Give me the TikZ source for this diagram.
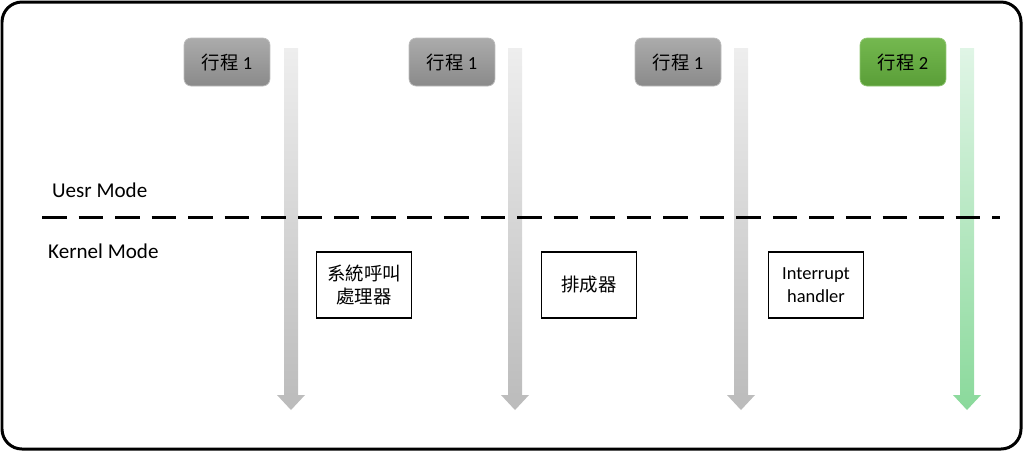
\documentclass[tikz,border=0pt]{standalone}
\usepackage{fontspec}
\setmainfont{Carlito}
\newfontfamily\cjk{Noto Sans CJK TC}
\usetikzlibrary{positioning}

\definecolor{procgraytop}{HTML}{ABABAB}
\definecolor{procgraybot}{HTML}{8A8A8A}
\definecolor{procgreentop}{HTML}{74B84F}
\definecolor{procgreenbot}{HTML}{5A9E38}
\definecolor{arrgraytop}{HTML}{EEEEEE}
\definecolor{arrgraybot}{HTML}{BBBBBB}
\definecolor{arrgreentop}{HTML}{E0F5E6}
\definecolor{arrgreenbot}{HTML}{8AD99B}

\begin{document}
\begin{tikzpicture}[x=0.02cm, y=-0.02cm, font=\fontsize{10.5}{13}\selectfont,
    procbox/.style={rounded corners=4pt, minimum width=1.72cm, minimum height=0.96cm, inner sep=0pt},
    procgray/.style={procbox, top color=procgraytop, bottom color=procgraybot, draw=procgraytop!80},
    procgreen/.style={procbox, top color=procgreentop, bottom color=procgreenbot, draw=procgreentop!80},
    kernbox/.style={draw=black, line width=1.1pt, minimum width=1.9cm, minimum height=1.32cm, align=center, inner sep=2pt},
    modelabel/.style={anchor=west, font=\fontsize{12}{14}\selectfont}]

    \useasboundingbox (0,0) rectangle (1024,451);

    % --- cornice esterna ---
    \draw[line width=1.7pt, rounded corners=0.4cm] (2,2) rectangle (1021,449);

    % --- frecce del tempo ---
    \foreach \cx/\ctop/\cbot in {291/arrgraytop/arrgraybot, 515/arrgraytop/arrgraybot,
                                 741/arrgraytop/arrgraybot, 967/arrgreentop/arrgreenbot} {
        \shade[top color=\ctop, bottom color=\cbot]
            ({\cx-7},48) -- ({\cx+7},48) -- ({\cx+7},395) -- ({\cx+14},395)
            -- (\cx,410) -- ({\cx-14},395) -- ({\cx-7},395) -- cycle;
    }

    % --- linea tra user e kernel ---
    \draw[line width=1.7pt, dash pattern=on 14pt off 6.8pt] (42,217) -- (1000,217);

    % --- processi ---
    \node[procgray]  (proc1a) at (227,62) {{\cjk 行程}~1};
    \node[procgray]  (proc1b) at (452,62) {{\cjk 行程}~1};
    \node[procgray]  (proc1c) at (678,62) {{\cjk 行程}~1};
    \node[procgreen] (proc2)  at (903,62) {{\cjk 行程}~2};

    % --- modalita ---
    \node[modelabel] (usermode)   at (46,190) {Uesr Mode};
    \node[modelabel] (kernelmode) at (42,251) {Kernel Mode};

    % --- gestori nel kernel ---
    \node[kernbox] (syscall)   at (364,285) {\cjk 系統呼叫\\ \cjk 處理器};
    \node[kernbox] (scheduler) at (589,285) {\cjk 排成器};
    \node[kernbox] (interrupt) at (816,285) {Interrupt\\handler};

\end{tikzpicture}
\end{document}
